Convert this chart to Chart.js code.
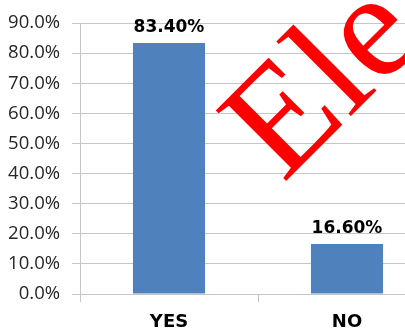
<!DOCTYPE html>
<html>
<head>
<meta charset="utf-8">
<script src="https://cdn.jsdelivr.net/npm/chart.js@4"></script>
<style>
  html, body { margin: 0; padding: 0; background: #fff; }
  #wrap { width: 405px; height: 331px; overflow: hidden; position: relative; }
  #answers_chart { position: absolute; left: 0; top: 0; }
</style>
</head>
<body>
<div id="wrap">
  <canvas id="answers_chart" width="436" height="331"></canvas>
</div>
<script>
var answers = ['YES', 'NO'];
var shares = [83.4, 16.6];
var valueLabels = ['83.40%', '16.60%'];
var watermark = 'Ele';

var barLabels = {
  id: 'barLabels',
  afterDatasetsDraw: function (chart) {
    var ctx = chart.ctx;
    var meta = chart.getDatasetMeta(0);
    ctx.save();
    ctx.font = 'bold 17px "DejaVu Sans"';
    ctx.fillStyle = '#000';
    ctx.textAlign = 'center';
    ctx.textBaseline = 'alphabetic';
    meta.data.forEach(function (bar, i) {
      ctx.fillText(valueLabels[i], bar.x, bar.y - 11);
    });
    ctx.restore();
  }
};

var stamp = {
  id: 'stamp',
  afterDraw: function (chart) {
    var ctx = chart.ctx;
    ctx.save();
    ctx.translate(283, 184);
    ctx.rotate(-Math.PI / 4);
    ctx.font = '152px "Liberation Serif"';
    ctx.fillStyle = '#ff0000';
    ctx.textAlign = 'left';
    ctx.textBaseline = 'alphabetic';
    ctx.fillText(watermark, 0, 0);
    ctx.restore();
  }
};

var ctx = document.getElementById('answers_chart').getContext('2d');
var chartInstance = new Chart(ctx, {
  type: 'bar',
  data: {
    labels: answers,
    datasets: [{
      data: shares,
      backgroundColor: '#4f81bd',
      borderWidth: 0,
      categoryPercentage: 1,
      barPercentage: 0.405
    }]
  },
  options: {
    responsive: false,
    animation: false,
    devicePixelRatio: 1,
    layout: { padding: { top: 20, left: 0, right: 0, bottom: 0 } },
    plugins: {
      legend: { display: false },
      tooltip: { enabled: false }
    },
    scales: {
      x: {
        grid: {
          drawOnChartArea: false,
          drawTicks: true,
          tickLength: 8,
          color: '#c6c6c6'
        },
        border: { color: '#c6c6c6', width: 1 },
        ticks: {
          color: '#000',
          padding: 10,
          font: { family: 'DejaVu Sans', size: 18, weight: 'bold' }
        },
        afterFit: function (scale) { scale.height = 37; }
      },
      y: {
        min: 0,
        max: 90,
        grid: {
          color: '#c6c6c6',
          tickLength: 8
        },
        border: { color: '#c6c6c6', width: 1 },
        ticks: {
          stepSize: 10,
          padding: 12,
          color: '#262626',
          font: { family: 'Open Sans', size: 18.5 },
          callback: function (v) { return v.toFixed(1) + '%'; }
        },
        afterFit: function (scale) { scale.width = 80; }
      }
    }
  },
  plugins: [barLabels, stamp]
});
</script>
</body>
</html>
